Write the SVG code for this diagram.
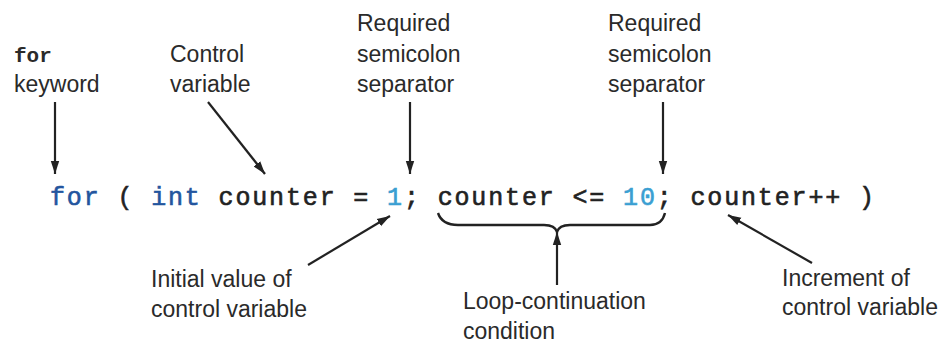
<svg xmlns="http://www.w3.org/2000/svg" width="945" height="347" viewBox="0 0 945 347">
<defs>
<style>
.lbl{font-family:"Liberation Sans",Arial,sans-serif;font-size:23px;fill:#2a2a2a}
.kw{font-family:"Liberation Mono","Courier New",monospace;font-size:21px;font-weight:bold;fill:#2a2a2a}
.code{font-family:"Liberation Mono","Courier New",monospace;font-size:25px;letter-spacing:1.85px;fill:#222;stroke:#222;stroke-width:0.6}
.blue{fill:#23559e;stroke:#23559e}
.lit{fill:#3a9fd2;stroke:#3a9fd2}
.arr{stroke:#222;stroke-width:2.2;fill:none;marker-end:url(#ah)}
.brace{stroke:#222;stroke-width:2.4;fill:none}
</style>
<marker id="ah" markerUnits="userSpaceOnUse" markerWidth="14" markerHeight="10" refX="13" refY="5" orient="auto">
<path d="M0,0.8 L13,5 L0,9.2 z" fill="#222"/>
</marker>
</defs>
<rect width="945" height="347" fill="#fff"/>

<g id="code">
<text class="code" x="50" y="205"><tspan class="blue">for</tspan> ( <tspan class="blue">int</tspan> counter = <tspan class="lit">1</tspan>; counter &lt;= <tspan class="lit">10</tspan>; counter++ )</text>
</g>

<g id="for-keyword">
<text class="kw" x="14" y="62">for</text>
<text class="lbl" x="14" y="92">keyword</text>
</g>
<g id="control-variable">
<text class="lbl" x="170" y="62">Control</text>
<text class="lbl" x="170" y="92">variable</text>
</g>
<g id="semicolon-1">
<text class="lbl" x="357" y="31">Required</text>
<text class="lbl" x="357" y="62">semicolon</text>
<text class="lbl" x="357" y="92">separator</text>
</g>
<g id="semicolon-2">
<text class="lbl" x="608" y="31">Required</text>
<text class="lbl" x="608" y="62">semicolon</text>
<text class="lbl" x="608" y="92">separator</text>
</g>
<g id="initial-value">
<text class="lbl" x="151" y="287">Initial value of</text>
<text class="lbl" x="151" y="317">control variable</text>
</g>
<g id="loop-condition">
<text class="lbl" x="463" y="309">Loop-continuation</text>
<text class="lbl" x="463" y="339">condition</text>
</g>
<g id="increment">
<text class="lbl" x="782" y="286">Increment of</text>
<text class="lbl" x="782" y="315">control variable</text>
</g>

<g id="connectors">
<line class="arr" x1="55" y1="102" x2="55" y2="174"/>
<line class="arr" x1="208" y1="102" x2="265" y2="174"/>
<line class="arr" x1="410" y1="102" x2="410" y2="174"/>
<line class="arr" x1="663" y1="102" x2="663" y2="174"/>
<line class="arr" x1="308" y1="265" x2="390" y2="216"/>
<line class="arr" x1="557" y1="285" x2="557" y2="232"/>
<line class="arr" x1="812" y1="263" x2="728" y2="215"/>
<path class="brace" d="M438,213 Q442,225 458,225 L544,225 Q555,225 557,232 Q559,225 570,225 L650,225 Q662,225 665,213"/>
</g>
</svg>
